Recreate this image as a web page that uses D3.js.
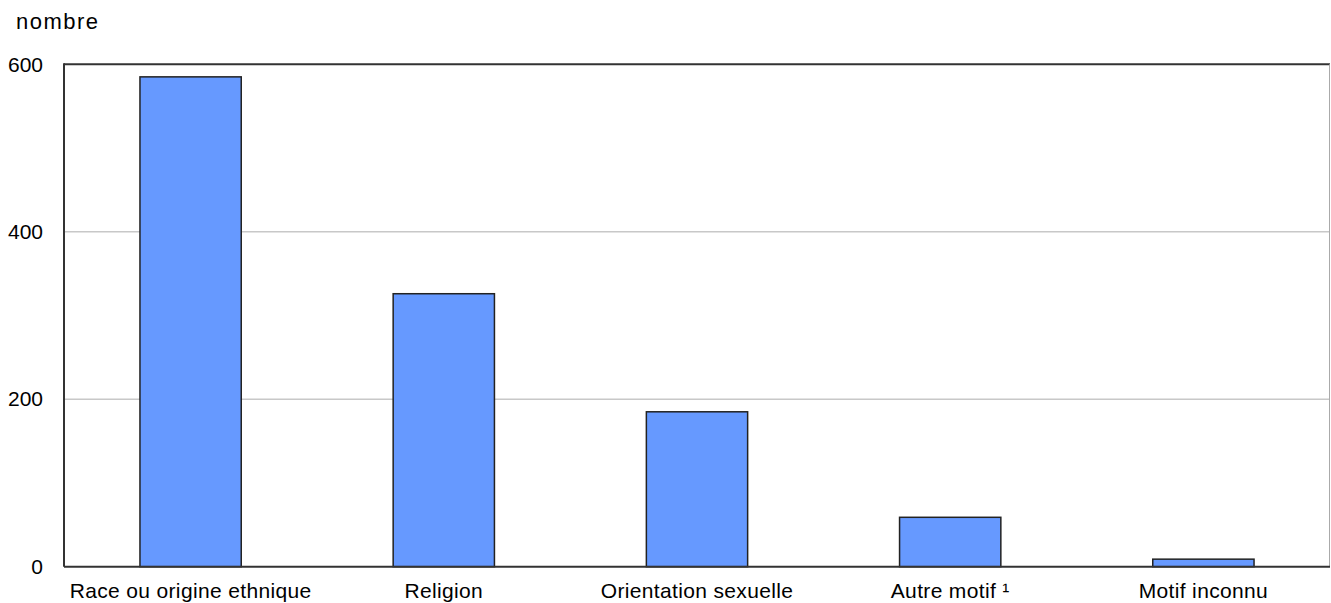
<!DOCTYPE html>
<html><head><meta charset="utf-8">
<script src="https://cdn.jsdelivr.net/npm/d3@7"></script>
<style>
html,body{margin:0;padding:0;background:#fff;}
svg text{font-family:"Liberation Sans",Arial,sans-serif;fill:#000;}
</style></head>
<body><svg id="c" width="1331" height="603"></svg>
<script>
const categories = ["Race ou origine ethnique","Religion","Orientation sexuelle","Autre motif \u00B9","Motif inconnu"];
const values = [585, 326, 185, 59, 9];
const yTicks = [0, 200, 400, 600];
const yTitle = "nombre";

(function(){
const svg = d3.select("#c");
const pL = 64, pR = 1330, pT = 64.3, pB = 566.7;
const FF = "Liberation Sans, Arial, sans-serif";

const x = d3.scaleBand().domain(categories).range([pL, pR]).paddingInner(0.6).paddingOuter(0.3);
const y = d3.scaleLinear().domain([0, 600]).range([pB, pT]);

// gridlines
svg.append("g").selectAll("line").data(yTicks.filter(t => t > 0 && t < 600)).join("line")
  .attr("x1", pL).attr("x2", pR)
  .attr("y1", d => y(d)).attr("y2", d => y(d))
  .attr("stroke", "#c8c8c8").attr("stroke-width", 1.5);

// frame
svg.append("line").attr("x1", pL).attr("x2", pR).attr("y1", pT).attr("y2", pT).attr("stroke", "#333").attr("stroke-width", 2);
svg.append("line").attr("x1", pR - 0.5).attr("x2", pR - 0.5).attr("y1", pT).attr("y2", pB).attr("stroke", "#aaa").attr("stroke-width", 1);

// bars
svg.append("g").selectAll("rect").data(values).join("rect")
  .attr("x", (d, i) => x(categories[i]))
  .attr("width", x.bandwidth())
  .attr("y", d => y(d))
  .attr("height", d => y(0) - y(d))
  .attr("fill", "#6699ff").attr("stroke", "#222").attr("stroke-width", 1.5);

// axes lines
svg.append("line").attr("x1", pL).attr("x2", pL).attr("y1", pT - 1).attr("y2", pB).attr("stroke", "#333").attr("stroke-width", 2);
svg.append("line").attr("x1", pL).attr("x2", pR).attr("y1", pB).attr("y2", pB).attr("stroke", "#333").attr("stroke-width", 2);

// y tick labels
const yAxis = d3.axisLeft(y).tickValues(yTicks).tickSize(0).tickPadding(21);
const ya = svg.append("g").attr("transform", `translate(${pL},0)`).call(yAxis);
ya.select(".domain").remove();
ya.selectAll("text").attr("font-size", 21).attr("font-family", FF).attr("fill", "#111");

// x labels
const xAxis = d3.axisBottom(x).tickSize(0).tickPadding(16.5);
const xa = svg.append("g").attr("transform", `translate(0,${pB})`).call(xAxis);
xa.select(".domain").remove();
xa.selectAll("text").attr("font-size", 21).attr("font-family", FF).attr("fill", "#111").attr("letter-spacing", "0.35px");

svg.append("text").attr("x", 16).attr("y", 28.5).attr("font-size", 22).attr("letter-spacing", "1.5px").attr("fill", "#111").text(yTitle);
})();
</script></body></html>
